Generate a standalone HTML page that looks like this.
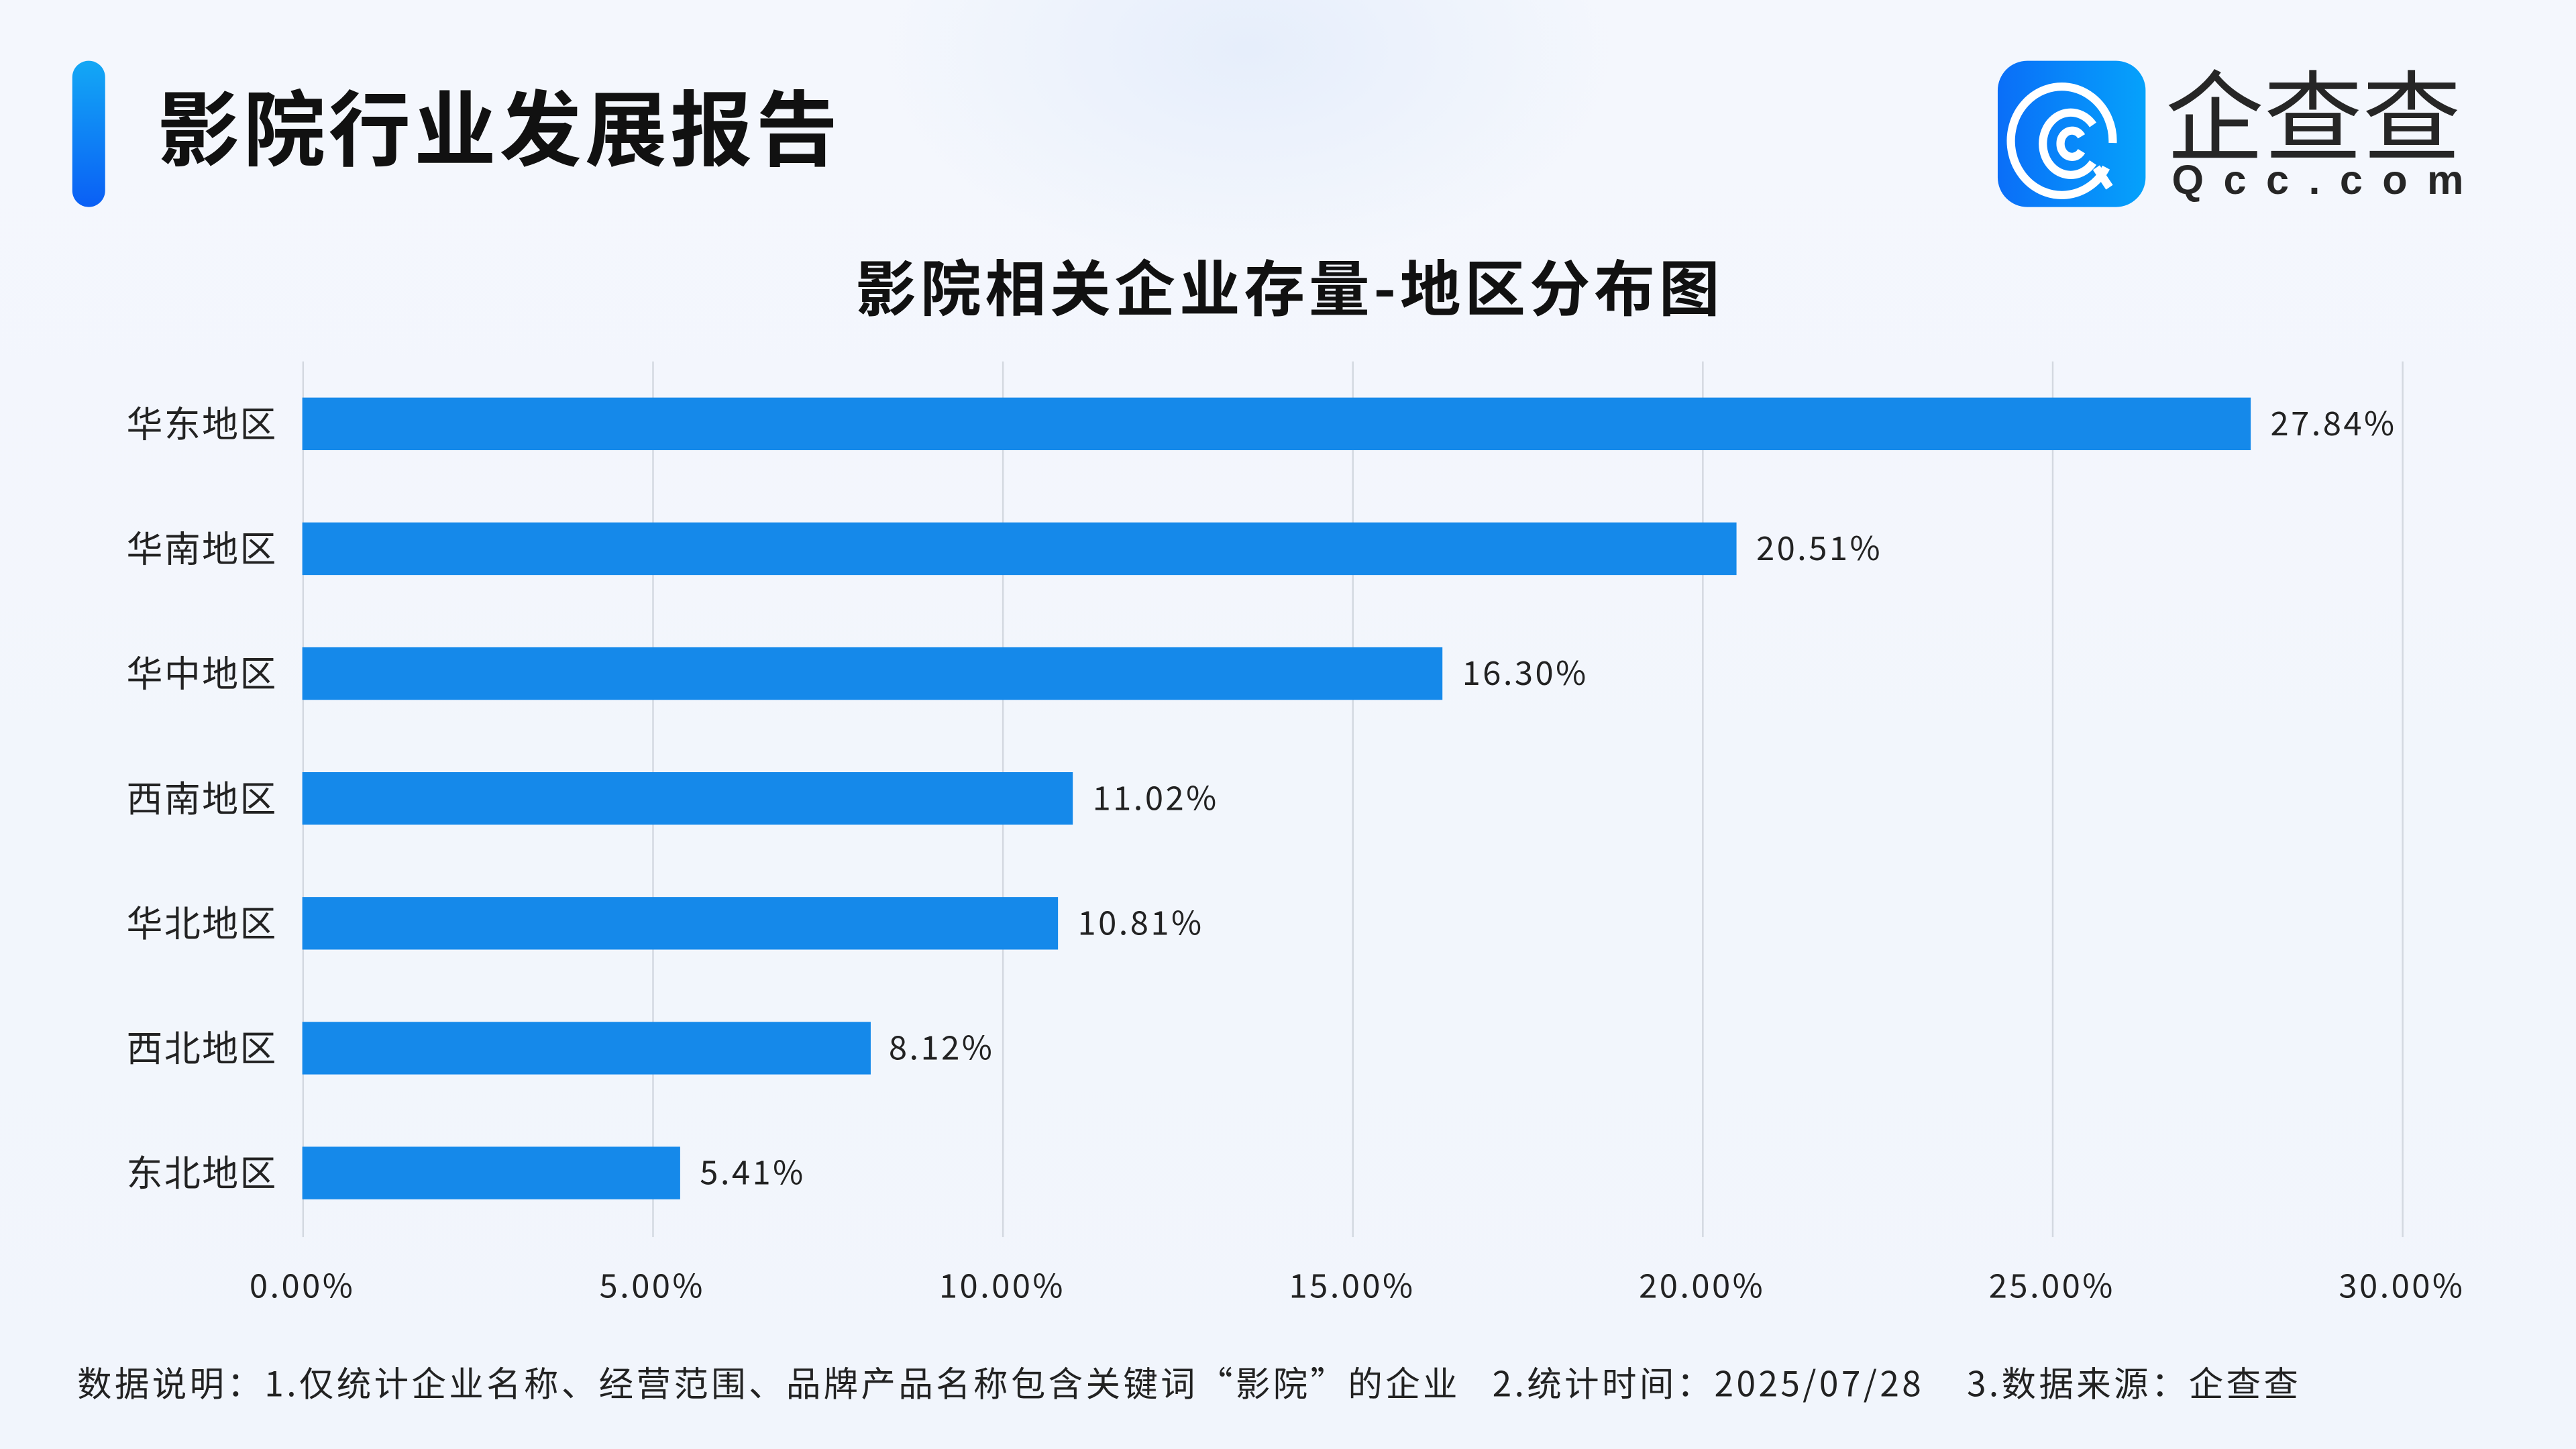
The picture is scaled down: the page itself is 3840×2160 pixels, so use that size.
<!DOCTYPE html>
<html><head><meta charset="utf-8">
<style>
html,body{margin:0;padding:0;}
body{width:3840px;height:2160px;overflow:hidden;background:#f3f6fc;}
#s{position:absolute;left:0;top:0;width:1568px;height:882px;transform:scale(2.44898);transform-origin:0 0;
background:radial-gradient(ellipse 220px 130px at 760px 30px,#e6eefb 0%,rgba(230,238,251,0) 100%),linear-gradient(180deg,#f4f7fd,#f1f5fc);
font-family:"Noto Sans CJK SC","Liberation Sans",sans-serif;color:#1a1a1a;overflow:hidden;}
.a{position:absolute;}
.cat{position:absolute;right:1399px;font-size:22px;line-height:26px;color:#222;white-space:nowrap;letter-spacing:1px;}
.bar{position:absolute;left:184px;height:32px;background:#1589ea;}
.val{position:absolute;font-size:20px;line-height:26px;color:#222;letter-spacing:1.4px;}
.grid{position:absolute;top:220px;height:533px;width:1px;background:#d3d8e0;}
.tick{position:absolute;top:769px;width:120px;margin-left:-60px;text-align:center;font-size:20px;line-height:26px;color:#222;letter-spacing:1.4px;}
</style></head><body>
<div id="s">
<div class="a" style="left:44px;top:37px;width:20px;height:89px;border-radius:10px;background:linear-gradient(180deg,#13a8f5,#0a5ff5);"></div>
<div class="a" style="left:96px;top:44px;font-size:50px;line-height:64px;font-weight:bold;letter-spacing:2px;color:#111;white-space:nowrap;">影院行业发展报告</div>
<div class="a" style="left:1216px;top:37px;width:90px;height:89px;border-radius:18px;background:linear-gradient(90deg,#0a6ef8,#05a2fb);overflow:hidden;">
<svg width="90" height="89" viewBox="0 0 90 89"><g fill="none" stroke="#fff" stroke-width="5">
<path d="M66 65 A31 33 0 1 1 70 50"/><path d="M58 39 A17 19 0 1 0 58 62"/><path d="M51 46 A7 8 0 1 0 51 55"/></g>
<path d="M60 65 L68 77" stroke="#fff" stroke-width="5"/></svg></div>
<div class="a" style="left:1318px;top:30px;font-size:60px;line-height:76px;color:#262626;letter-spacing:0px;white-space:nowrap;">企查查</div>
<div class="a" style="left:1322px;top:95px;font-family:'Liberation Sans',sans-serif;font-size:25px;line-height:30px;color:#262626;letter-spacing:12px;font-weight:bold;white-space:nowrap;">Qcc.com</div>
<div class="a" style="left:0;width:1570px;top:146px;text-align:center;font-size:37px;line-height:54px;font-weight:bold;color:#111;letter-spacing:2.4px;">影院相关企业存量-地区分布图</div>
<div class="grid" style="left:184px"></div><div class="grid" style="left:397px"></div><div class="grid" style="left:610px"></div><div class="grid" style="left:823px"></div><div class="grid" style="left:1036px"></div><div class="grid" style="left:1249px"></div><div class="grid" style="left:1462px"></div>
<div class="cat" style="top:244px">华东地区</div><div class="bar" style="top:242px;width:1186px"></div><div class="val" style="left:1382px;top:244px">27.84%</div>
<div class="cat" style="top:320px">华南地区</div><div class="bar" style="top:318px;width:873px"></div><div class="val" style="left:1069px;top:320px">20.51%</div>
<div class="cat" style="top:396px">华中地区</div><div class="bar" style="top:394px;width:694px"></div><div class="val" style="left:890px;top:396px">16.30%</div>
<div class="cat" style="top:472px">西南地区</div><div class="bar" style="top:470px;width:469px"></div><div class="val" style="left:665px;top:472px">11.02%</div>
<div class="cat" style="top:548px">华北地区</div><div class="bar" style="top:546px;width:460px"></div><div class="val" style="left:656px;top:548px">10.81%</div>
<div class="cat" style="top:624px">西北地区</div><div class="bar" style="top:622px;width:346px"></div><div class="val" style="left:541px;top:624px">8.12%</div>
<div class="cat" style="top:700px">东北地区</div><div class="bar" style="top:698px;width:230px"></div><div class="val" style="left:426px;top:700px">5.41%</div>
<div class="tick" style="left:184px">0.00%</div><div class="tick" style="left:397px">5.00%</div><div class="tick" style="left:610px">10.00%</div><div class="tick" style="left:823px">15.00%</div><div class="tick" style="left:1036px">20.00%</div><div class="tick" style="left:1249px">25.00%</div><div class="tick" style="left:1462px">30.00%</div>
<div class="a" style="left:47px;top:829px;font-size:21px;line-height:26px;color:#222;white-space:nowrap;letter-spacing:1.8px;">数据说明：1.仅统计企业名称、经营范围、品牌产品名称包含关键词“影院”的企业&nbsp;&nbsp;&nbsp;2.统计时间：2025/07/28&nbsp;&nbsp;&nbsp;&nbsp;3.数据来源：企查查</div>
</div>
</body></html>
